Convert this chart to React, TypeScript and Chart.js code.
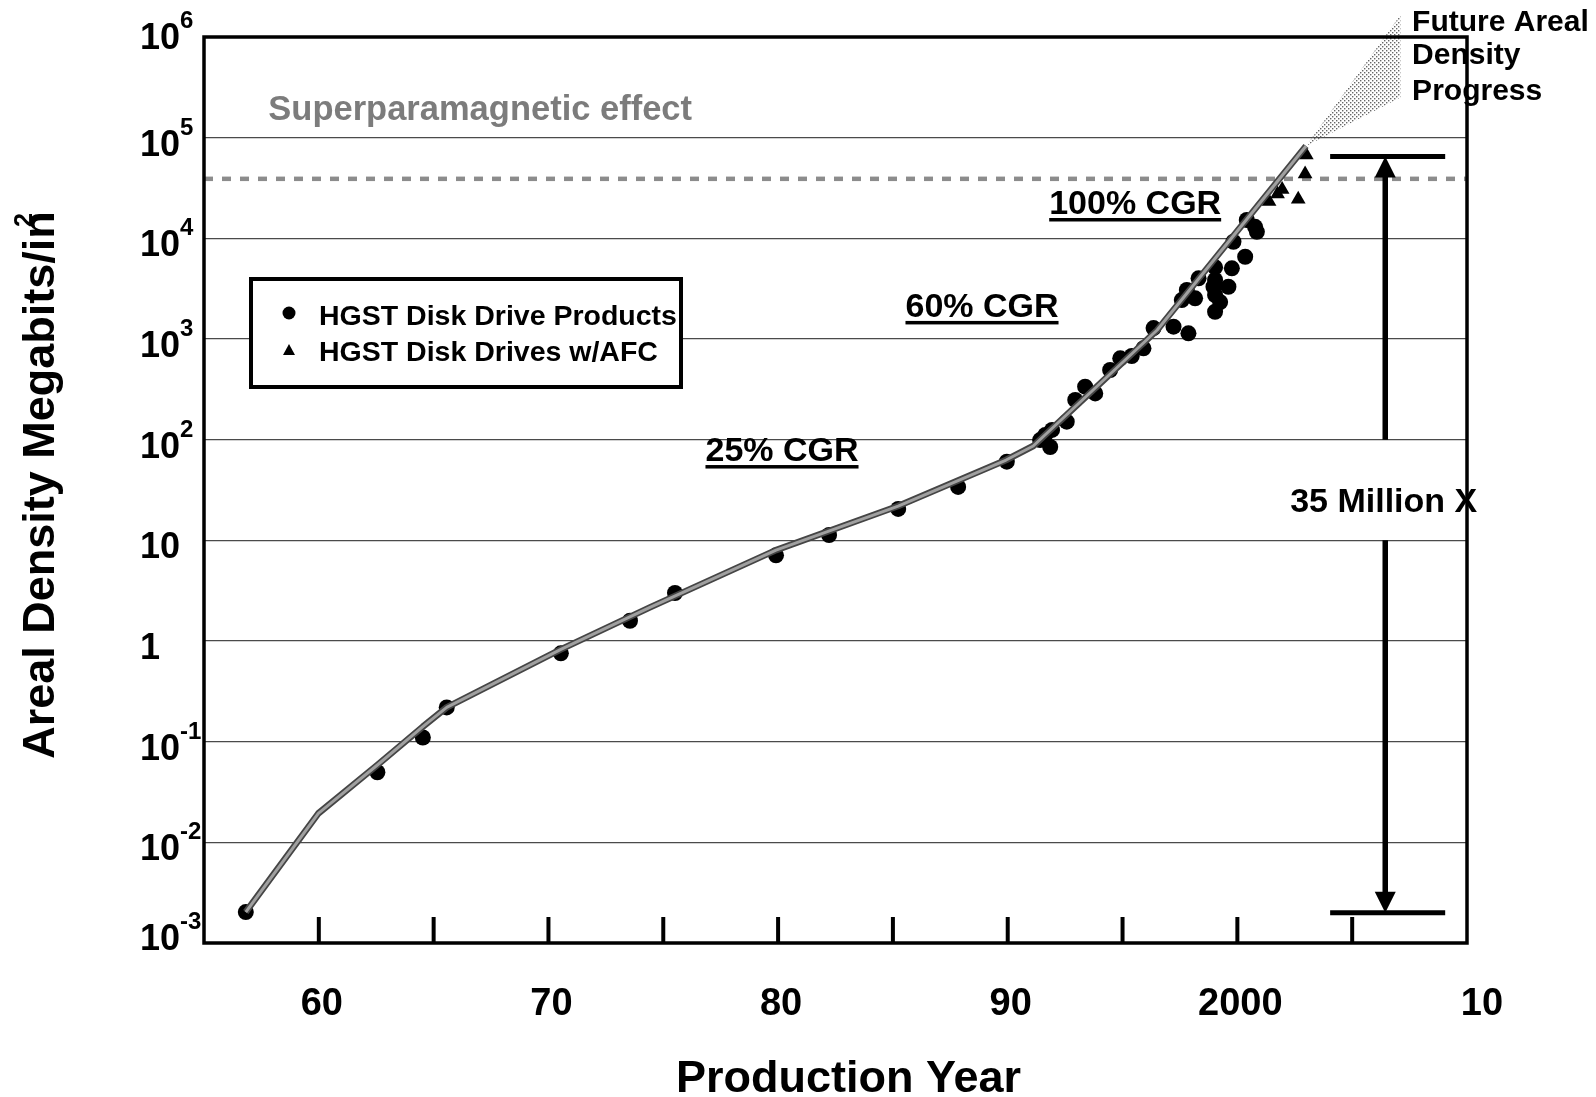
import React, { useEffect, useRef } from 'react';
import { Chart, registerables } from 'chart.js';

Chart.register(...registerables);

// ---------- data ----------
const PRODUCT_YEARS = [
  1956.82, 1962.55, 1964.53, 1965.57, 1970.54, 1973.55, 1975.51, 1979.91, 1982.22, 1985.23,
  1987.84, 1989.96, 1991.41, 1991.63, 1991.85, 1991.93, 1992.57, 1992.94, 1993.37, 1993.81,
  1994.46, 1994.9, 1995.4, 1995.91, 1996.35, 1997.22, 1997.87, 1997.58, 1997.8, 1998.16,
  1998.31, 1998.96, 1999.03, 1999.03, 1999.03, 1999.03, 1999.25, 1999.61, 1999.76, 1999.83,
  2000.34, 2000.41, 2000.77, 2000.85,
];
const PRODUCT_DENSITY = [
  0.00203, 0.0497, 0.11, 0.219, 0.755, 1.59, 3.0, 7.1, 11.3, 20.5,
  33.9, 60.4, 99, 111, 84.5, 125, 151, 248, 336, 288,
  492, 643, 678, 807, 1285, 1325, 1138, 2438, 3068, 2537,
  4009, 3306, 5152, 3853, 2735, 1866, 2328, 3306, 5035, 9250,
  6560, 15200, 13000, 11600,
];
const AFC_YEARS = [2001.38, 2001.75, 2001.95, 2002.65, 2002.95, 2003.0];
const AFC_DENSITY = [23200, 27500, 30500, 24500, 43500, 67100];

const TREND_YEARS = [
  1956.82, 1959.98, 1962.55, 1964.53, 1965.57, 1970.54, 1974.42, 1979.91, 1985.23, 1989.93,
  1991.11, 1996.51, 2002.99,
];
const TREND_DENSITY = [
  0.00203, 0.0194, 0.0586, 0.141, 0.219, 0.826, 2.16, 8.0, 21.9, 62.8,
  86.5, 1228, 82600,
];

const SUPERPARAMAGNETIC_LIMIT = 39000;

const X_MIN = 1955;
const X_MAX = 2010;
const X_TICK_YEARS = [1960, 1965, 1970, 1975, 1980, 1985, 1990, 1995, 2000, 2005];
const X_LABEL_YEARS = [1960, 1970, 1980, 1990, 2000, 2010];
const X_LABEL_TEXT = ['60', '70', '80', '90', '2000', '10'];
const Y_DECADES = [-3, -2, -1, 0, 1, 2, 3, 4, 5, 6];

// "35 Million X" span annotation
const SPAN_YEAR = 2006.44;
const SPAN_BAR_FROM = 2004.04;
const SPAN_BAR_TO = 2009.05;
const SPAN_TOP = 65000;
const SPAN_BOTTOM = 0.002;
const SPAN_GAP = [10, 100];

// future progress cone
const FUTURE_YEAR = 2007.1;
const FUTURE_HIGH = 1.65e6;
const FUTURE_LOW = 2.5e5;

const LABEL_PRODUCTS = 'HGST Disk Drive Products';
const LABEL_AFC = 'HGST Disk Drives w/AFC';

// ---------- drawing helpers ----------
const FAMILY = '"Liberation Sans", Arial, Helvetica, sans-serif';
const font = (size: number) => `bold ${size}px ${FAMILY}`;

function capText(
  ctx: CanvasRenderingContext2D,
  str: string,
  x: number,
  yCenter: number,
  size: number,
  align: CanvasTextAlign,
  color = '#000'
) {
  ctx.save();
  ctx.font = font(size);
  ctx.textAlign = align;
  ctx.textBaseline = 'alphabetic';
  ctx.fillStyle = color;
  ctx.fillText(str, x, yCenter + 0.358 * size);
  const w = ctx.measureText(str).width;
  ctx.restore();
  return w;
}

const overlay = {
  id: 'overlay',
  beforeDraw(chart: any) {
    const { ctx, width, height } = chart;
    ctx.save();
    ctx.fillStyle = '#fff';
    ctx.fillRect(0, 0, width, height);
    ctx.restore();
  },
  afterDatasetsDraw(chart: any) {
    const { ctx, chartArea: a, scales } = chart;
    const X = (v: number) => scales.x.getPixelForValue(v);
    const Y = (v: number) => scales.y.getPixelForValue(v);

    ctx.save();

    // future cone (stippled)
    const pc = document.createElement('canvas');
    pc.width = 4;
    pc.height = 4;
    const g = pc.getContext('2d')!;
    g.fillStyle = '#666';
    g.fillRect(0, 0, 1.4, 1.4);
    g.fillRect(2, 2, 1.4, 1.4);
    const pattern = ctx.createPattern(pc, 'repeat');
    const ax = X(TREND_YEARS[TREND_YEARS.length - 1]);
    const ay = Y(TREND_DENSITY[TREND_DENSITY.length - 1]);
    ctx.beginPath();
    ctx.moveTo(ax, ay);
    ctx.lineTo(X(FUTURE_YEAR), Y(FUTURE_HIGH));
    ctx.lineTo(X(FUTURE_YEAR), Y(FUTURE_LOW));
    ctx.closePath();
    ctx.fillStyle = pattern;
    ctx.fill();

    // plot frame
    ctx.strokeStyle = '#000';
    ctx.lineWidth = 3.5;
    ctx.strokeRect(a.left, a.top, a.right - a.left, a.bottom - a.top);

    // inside x ticks
    ctx.lineWidth = 4;
    X_TICK_YEARS.forEach((yr) => {
      const px = X(yr);
      ctx.beginPath();
      ctx.moveTo(px, a.bottom);
      ctx.lineTo(px, a.bottom - 26);
      ctx.stroke();
    });

    // region texts
    capText(ctx, 'Superparamagnetic effect', X(1957.8), Y(2.0e5), 34.5, 'left', '#7c7c7c');

    const cgr = (str: string, yr: number, v: number) => {
      const cx = X(yr);
      const cy = Y(v);
      const w = capText(ctx, str, cx, cy, 34, 'center', '#000');
      ctx.fillStyle = '#000';
      ctx.fillRect(cx - w / 2, cy + 16, w, 3.5);
    };
    cgr('25% CGR', 1980.17, 80.7);
    cgr('60% CGR', 1988.88, 2180);
    cgr('100% CGR', 1995.55, 22960);

    // span arrow
    const sx = X(SPAN_YEAR);
    const yTop = Y(SPAN_TOP);
    const yBot = Y(SPAN_BOTTOM);
    ctx.strokeStyle = '#000';
    ctx.lineWidth = 5;
    ctx.beginPath();
    ctx.moveTo(X(SPAN_BAR_FROM), yTop);
    ctx.lineTo(X(SPAN_BAR_TO), yTop);
    ctx.moveTo(X(SPAN_BAR_FROM), yBot);
    ctx.lineTo(X(SPAN_BAR_TO), yBot);
    ctx.stroke();
    ctx.lineWidth = 5.5;
    ctx.beginPath();
    ctx.moveTo(sx, yTop + 15);
    ctx.lineTo(sx, Y(SPAN_GAP[1]));
    ctx.moveTo(sx, Y(SPAN_GAP[0]));
    ctx.lineTo(sx, yBot - 15);
    ctx.stroke();
    ctx.fillStyle = '#000';
    ctx.beginPath();
    ctx.moveTo(sx, yTop);
    ctx.lineTo(sx - 10.5, yTop + 21);
    ctx.lineTo(sx + 10.5, yTop + 21);
    ctx.closePath();
    ctx.fill();
    ctx.beginPath();
    ctx.moveTo(sx, yBot);
    ctx.lineTo(sx - 10.5, yBot - 21);
    ctx.lineTo(sx + 10.5, yBot - 21);
    ctx.closePath();
    ctx.fill();
    capText(ctx, '35 Million X', X(2002.3), Y(25.1), 34, 'left', '#000');

    // future text
    capText(ctx, 'Future Areal', X(2007.61), Y(1.476e6), 30, 'left', '#000');
    capText(ctx, 'Density', X(2007.61), Y(6.93e5), 30, 'left', '#000');
    capText(ctx, 'Progress', X(2007.61), Y(3.0e5), 30, 'left', '#000');

    // legend box
    const lx = a.left + 47;
    const ly = a.top + 242;
    ctx.fillStyle = '#fff';
    ctx.fillRect(lx, ly, 430, 108);
    ctx.strokeStyle = '#000';
    ctx.lineWidth = 4;
    ctx.strokeRect(lx, ly, 430, 108);
    ctx.fillStyle = '#000';
    ctx.beginPath();
    ctx.arc(lx + 38, ly + 34, 6.5, 0, Math.PI * 2);
    ctx.fill();
    ctx.beginPath();
    ctx.moveTo(lx + 38, ly + 65);
    ctx.lineTo(lx + 32, ly + 76);
    ctx.lineTo(lx + 44, ly + 76);
    ctx.closePath();
    ctx.fill();
    capText(ctx, LABEL_PRODUCTS, lx + 68, ly + 36, 28.5, 'left', '#000');
    capText(ctx, LABEL_AFC, lx + 68, ly + 72, 28.5, 'left', '#000');

    // y tick labels
    ctx.fillStyle = '#000';
    ctx.textAlign = 'left';
    ctx.textBaseline = 'alphabetic';
    Y_DECADES.forEach((e) => {
      const yy = Y(Math.pow(10, e));
      const base = e === 0 ? '1' : '10';
      const sup = e === 0 || e === 1 ? '' : String(e);
      const left = a.left - 64;
      const shift = e === Y_DECADES[Y_DECADES.length - 1] ? -1 : e === Y_DECADES[0] ? -6 : 5;
      const baseline = yy + shift + 0.358 * 36;
      ctx.font = font(36);
      ctx.fillText(base, left, baseline);
      if (sup) {
        const w = ctx.measureText(base).width;
        ctx.font = font(24);
        ctx.fillText(sup, left + w, baseline - 21);
      }
    });

    // x tick labels
    X_LABEL_YEARS.forEach((yr, i) => {
      const nudge = i === X_LABEL_YEARS.length - 1 ? 15 : 3;
      capText(ctx, X_LABEL_TEXT[i], X(yr) + nudge, a.bottom + 58, 38, 'center', '#000');
    });

    // axis titles
    capText(ctx, 'Production Year', (a.left + a.right) / 2 + 13, a.bottom + 133, 45, 'center', '#000');

    ctx.save();
    ctx.translate(54, (a.top + a.bottom) / 2 - 5);
    ctx.rotate(-Math.PI / 2);
    ctx.font = font(45);
    const main = 'Areal Density Megabits/in';
    const w1 = ctx.measureText(main).width;
    ctx.font = font(25);
    const w2 = ctx.measureText('2').width;
    const start = -w1 / 2;
    ctx.font = font(45);
    ctx.textAlign = 'left';
    ctx.fillStyle = '#000';
    ctx.fillText(main, start, 0);
    ctx.font = font(25);
    ctx.fillText('2', start + w1 - w2 - 2, -22);
    ctx.restore();

    ctx.restore();
  },
};

export default function App() {
  const ref = useRef<HTMLCanvasElement | null>(null);

  useEffect(() => {
    if (!ref.current) return;
    const trend = TREND_YEARS.map((x, i) => ({ x, y: TREND_DENSITY[i] }));
    const products = PRODUCT_YEARS.map((x, i) => ({ x, y: PRODUCT_DENSITY[i] }));
    const afc = AFC_YEARS.map((x, i) => ({ x, y: AFC_DENSITY[i] }));
    const limit = [
      { x: X_MIN, y: SUPERPARAMAGNETIC_LIMIT },
      { x: X_MAX, y: SUPERPARAMAGNETIC_LIMIT },
    ];

    const chart = new Chart(ref.current, {
      type: 'scatter',
      data: {
        datasets: [
          {
            label: 'trend',
            data: trend,
            showLine: true,
            borderColor: '#a0a0a0',
            borderWidth: 3,
            borderJoinStyle: 'round',
            pointRadius: 0,
            order: 0,
          },
          {
            label: 'trend outline',
            data: trend,
            showLine: true,
            borderColor: '#454545',
            borderWidth: 6.5,
            borderJoinStyle: 'round',
            pointRadius: 0,
            order: 1,
          },
          {
            label: LABEL_AFC,
            data: afc,
            pointStyle: 'triangle',
            pointRadius: 8.5,
            pointBackgroundColor: '#000',
            pointBorderColor: '#000',
            pointBorderWidth: 0,
            order: 2,
          },
          {
            label: LABEL_PRODUCTS,
            data: products,
            pointStyle: 'circle',
            pointRadius: 8,
            pointBackgroundColor: '#000',
            pointBorderColor: '#000',
            pointBorderWidth: 0,
            order: 3,
          },
          {
            label: 'Superparamagnetic limit',
            data: limit,
            showLine: true,
            borderColor: '#8c8c8c',
            borderWidth: 4.5,
            borderDash: [9, 9],
            pointRadius: 0,
            order: 4,
          },
        ],
      },
      options: {
        responsive: false,
        devicePixelRatio: 1,
        animation: false,
        events: [],
        layout: { padding: { left: 204, right: 129, top: 37, bottom: 154 } },
        plugins: {
          legend: { display: false },
          tooltip: { enabled: false },
          title: { display: false },
        },
        scales: {
          x: { type: 'linear', min: X_MIN, max: X_MAX, display: false },
          y: {
            type: 'logarithmic',
            min: 1e-3,
            max: 1e6,
            afterBuildTicks: (scale: any) => {
              scale.ticks = Y_DECADES.map((e) => ({ value: Math.pow(10, e) }));
            },
            ticks: { display: false },
            grid: { color: '#4a4a4a', lineWidth: 1.3, drawTicks: false },
            border: { display: false },
          },
        },
      },
      plugins: [overlay],
    } as any);

    return () => chart.destroy();
  }, []);

  return (
    <div style={{ position: 'fixed', left: 0, top: 0, width: 1596, height: 1097, background: '#fff' }}>
      <canvas ref={ref} width={1596} height={1097} style={{ display: 'block', width: 1596, height: 1097 }} />
    </div>
  );
}
